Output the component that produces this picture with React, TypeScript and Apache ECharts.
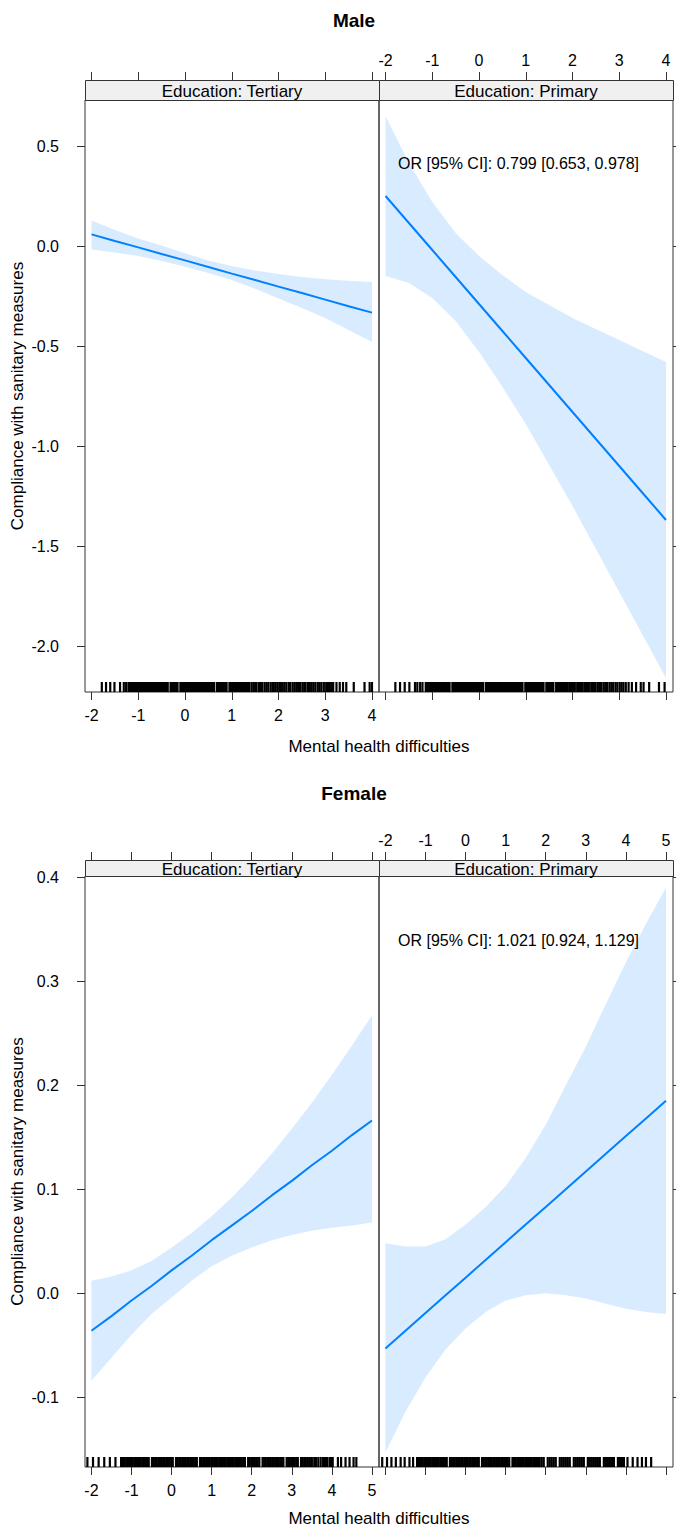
import { useEffect, useRef } from "react";
import * as echarts from "echarts";

const FONT = '"Liberation Sans", Arial, Helvetica, sans-serif';

// ---------- text ----------
const groupNames = ["Male", "Female"];
const panelNames = ["Education: Tertiary", "Education: Primary"];
const xTitle = "Mental health difficulties";
const yTitle = "Compliance with sanitary measures";
const orLabels = ["OR [95% CI]: 0.799 [0.653, 0.978]", "OR [95% CI]: 1.021 [0.924, 1.129]"];

// ---------- ticks ----------
const maleXTicks = [-2, -1, 0, 1, 2, 3, 4];
const femaleXTicks = [-2, -1, 0, 1, 2, 3, 4, 5];
const maleYTicks = [-2, -1.5, -1, -0.5, 0, 0.5];
const femaleYTicks = [-0.1, 0, 0.1, 0.2, 0.3, 0.4];

// ---------- Male ----------
const maleX = [-2, -1.5, -1, -0.5, 0, 0.5, 1, 1.5, 2, 2.5, 3, 3.5, 4];
const maleTertiaryFit = [0.058, 0.025, -0.007, -0.04, -0.072, -0.105, -0.138, -0.17, -0.203, -0.235, -0.268, -0.301, -0.333];
const maleTertiaryUpper = [0.128, 0.08, 0.038, 0.002, -0.036, -0.072, -0.1, -0.122, -0.14, -0.155, -0.166, -0.174, -0.18];
const maleTertiaryLower = [-0.018, -0.032, -0.05, -0.075, -0.104, -0.135, -0.17, -0.214, -0.262, -0.31, -0.36, -0.42, -0.48];
const malePrimaryFit = [0.25, 0.115, -0.02, -0.155, -0.29, -0.425, -0.56, -0.695, -0.83, -0.965, -1.1, -1.235, -1.37];
const malePrimaryUpper = [0.65, 0.415, 0.22, 0.065, -0.05, -0.145, -0.23, -0.295, -0.36, -0.415, -0.47, -0.525, -0.58];
const malePrimaryLower = [-0.15, -0.185, -0.26, -0.375, -0.53, -0.705, -0.89, -1.095, -1.3, -1.515, -1.73, -1.945, -2.16];

const maleTertiaryRug = [
  -1.78, -1.69, -1.6, -1.51, -1.39, -1.31, -1.26, -1.21, -1.18,
  -1.15, -1.12, -1.09, -1.06, -1.03, -1.0, -0.97, -0.94, -0.91, -0.88, -0.85, -0.82, -0.79, -0.76, -0.73, -0.7, -0.67, -0.64, -0.61, -0.58, -0.55, -0.52, -0.49, -0.46, -0.43, -0.4, -0.37, -0.31, -0.28, -0.25, -0.22, -0.19, -0.16, -0.1, -0.07, -0.04, -0.01, 0.02, 0.05, 0.08, 0.11, 0.14, 0.17, 0.2, 0.23, 0.26, 0.29, 0.32, 0.35, 0.38, 0.41, 0.44, 0.47, 0.5, 0.53, 0.56, 0.59, 0.62, 0.68, 0.71, 0.74, 0.77, 0.8, 0.83, 0.86, 0.89, 0.95, 0.98, 1.01, 1.04, 1.07, 1.1, 1.13, 1.16, 1.19, 1.22, 1.25, 1.28, 1.31, 1.34, 1.37,
  1.42, 1.46, 1.5, 1.53, 1.58, 1.62, 1.65, 1.7, 1.74, 1.78, 1.83, 1.87, 1.9, 1.94,
  1.98, 2.02, 2.05, 2.09, 2.13, 2.17, 2.22, 2.25, 2.3, 2.34, 2.38, 2.42, 2.46, 2.51, 2.55, 2.58, 2.63, 2.67, 2.71, 2.75, 2.79, 2.84, 2.88, 2.92, 2.97,
  3.02, 3.05, 3.08, 3.11, 3.14, 3.17,
  3.24, 3.31, 3.38, 3.45, 3.61, 3.84, 3.95, 4.0,
];
const malePrimaryRug = [
  -1.79, -1.69, -1.59, -1.49, -1.37, -1.32, -1.26, -1.21,
  -1.14, -1.11, -1.08, -1.05, -1.02, -0.99, -0.96, -0.93, -0.9, -0.87, -0.84, -0.81, -0.78, -0.75, -0.72, -0.69, -0.66, -0.63, -0.57, -0.54, -0.51, -0.48, -0.45, -0.42, -0.39, -0.36, -0.33, -0.3, -0.27, -0.24, -0.21, -0.18, -0.15, -0.12, -0.09, -0.06, -0.03, 0.0, 0.03, 0.06, 0.09, 0.15, 0.18, 0.21, 0.24, 0.27, 0.3, 0.33, 0.36, 0.39, 0.42, 0.45, 0.48, 0.51, 0.54, 0.57, 0.6, 0.63, 0.66, 0.69, 0.72, 0.75, 0.78, 0.81, 0.84, 0.87, 0.9, 0.93, 0.99, 1.02, 1.05, 1.08, 1.11, 1.14, 1.17, 1.2, 1.23, 1.26, 1.29, 1.32, 1.35, 1.38, 1.44, 1.47, 1.5, 1.53, 1.56, 1.59, 1.65, 1.68, 1.71, 1.74, 1.77, 1.8, 1.83, 1.86, 1.89,
  1.93, 1.97, 2.01, 2.05, 2.1, 2.14, 2.18, 2.22, 2.27, 2.31, 2.35, 2.4, 2.44, 2.48, 2.53, 2.57, 2.61, 2.66, 2.7, 2.74, 2.79, 2.83, 2.87, 2.92, 2.96, 3.01, 3.05, 3.09,
  3.14, 3.2, 3.27, 3.36, 3.46, 3.52, 3.64, 3.85, 3.97,
];

// ---------- Female ----------
const femaleX = [-2, -1.5, -1, -0.5, 0, 0.5, 1, 1.5, 2, 2.5, 3, 3.5, 4, 4.5, 5];
const femaleTertiaryFit = [-0.036, -0.022, -0.007, 0.007, 0.022, 0.036, 0.051, 0.065, 0.079, 0.094, 0.108, 0.123, 0.137, 0.152, 0.166];
const femaleTertiaryUpper = [0.012, 0.016, 0.022, 0.031, 0.044, 0.058, 0.074, 0.092, 0.112, 0.134, 0.158, 0.183, 0.21, 0.238, 0.267];
const femaleTertiaryLower = [-0.084, -0.062, -0.04, -0.02, -0.004, 0.012, 0.026, 0.036, 0.044, 0.051, 0.056, 0.06, 0.063, 0.065, 0.068];
const femalePrimaryFit = [-0.053, -0.036, -0.019, -0.002, 0.015, 0.032, 0.049, 0.066, 0.083, 0.1, 0.117, 0.134, 0.151, 0.168, 0.185];
const femalePrimaryUpper = [0.048, 0.045, 0.045, 0.052, 0.066, 0.083, 0.103, 0.13, 0.162, 0.2, 0.237, 0.278, 0.318, 0.355, 0.39];
const femalePrimaryLower = [-0.153, -0.114, -0.081, -0.054, -0.034, -0.018, -0.007, -0.002, 0.0, -0.002, -0.005, -0.01, -0.015, -0.018, -0.02];

const femaleTertiaryRug = [
  -2.1, -1.96, -1.82, -1.68, -1.54, -1.4, -1.26, -1.21,
  -1.17, -1.13, -1.09, -1.05, -1.01, -0.97, -0.93, -0.89, -0.85, -0.81, -0.77, -0.73, -0.69, -0.65, -0.61, -0.57, -0.49, -0.45, -0.41, -0.37, -0.33, -0.29, -0.25, -0.21, -0.17, -0.13, -0.09, -0.05, -0.01, 0.03, 0.11, 0.15, 0.19, 0.23, 0.27, 0.31, 0.35, 0.39, 0.43, 0.47, 0.51, 0.55, 0.59, 0.63, 0.71, 0.75, 0.79, 0.83, 0.87, 0.91, 0.95, 0.99, 1.03, 1.07, 1.11, 1.15, 1.19, 1.23, 1.27, 1.31, 1.35, 1.39, 1.43, 1.47, 1.51, 1.55, 1.59, 1.63, 1.67, 1.71, 1.75, 1.79, 1.83, 1.91, 1.95, 1.99, 2.03, 2.07, 2.11, 2.15, 2.19, 2.27, 2.31, 2.35, 2.39, 2.43, 2.47, 2.51, 2.55, 2.59, 2.63, 2.67, 2.71, 2.75, 2.79, 2.87, 2.91, 2.95, 2.99, 3.03, 3.07, 3.11, 3.15, 3.23, 3.27, 3.31, 3.35,
  3.4, 3.45, 3.5, 3.56, 3.6, 3.66, 3.72, 3.78, 3.83, 3.88, 3.94, 3.98, 4.02,
  4.15, 4.23, 4.34, 4.44, 4.54, 4.61,
];
const femalePrimaryRug = [
  -2.08, -1.96, -1.85, -1.74, -1.62, -1.52, -1.4, -1.31, -1.21,
  -1.19, -1.15, -1.11, -1.07, -1.03, -0.99, -0.95, -0.91, -0.87, -0.83, -0.79, -0.75, -0.71, -0.67, -0.63, -0.59, -0.55, -0.51, -0.47, -0.39, -0.35, -0.31, -0.27, -0.23, -0.19, -0.15, -0.11, -0.07, -0.03, 0.01, 0.05, 0.09, 0.13, 0.17, 0.21, 0.25, 0.29, 0.33, 0.41, 0.45, 0.49, 0.53, 0.57, 0.61, 0.65, 0.69, 0.73, 0.77, 0.81, 0.85, 0.89, 0.93, 0.97, 1.01, 1.05, 1.09, 1.17, 1.21, 1.25, 1.29, 1.33, 1.37, 1.41, 1.45, 1.49, 1.53, 1.57, 1.61, 1.65, 1.69, 1.73, 1.77, 1.81, 1.85,
  1.9, 1.95, 2.05, 2.1, 2.15, 2.2, 2.25, 2.35, 2.4, 2.45, 2.5, 2.55, 2.6, 2.7, 2.75, 2.8, 2.85, 2.9, 2.95, 3.05, 3.1, 3.15, 3.2, 3.25, 3.3, 3.35, 3.45, 3.5, 3.55, 3.6, 3.65, 3.7, 3.8, 3.85, 3.9, 3.95, 4.04,
  4.17, 4.29, 4.4, 4.5, 4.63,
];

// ---------- styling / layout ----------
const BAND = "#d9ecff";
const LINE = "#0080ff";
const BORDER = "#333333";
const STRIP_BG = "#f0f0f0";
const PANEL_LEFT = [85, 379];
const PANEL_W = 294;

const groups = [
  {
    stripTop: 80, stripH: 20, plotTop: 100, plotH: 592, titleY: 20, xTitleY: 746, orY: 163,
    xMin: -2.14, xMax: 4.15, yMin: -2.23, yMax: 0.73,
    xTicks: maleXTicks, yTicks: maleYTicks, x: maleX, rugW: 2.2,
    fits: [maleTertiaryFit, malePrimaryFit],
    uppers: [maleTertiaryUpper, malePrimaryUpper],
    lowers: [maleTertiaryLower, malePrimaryLower],
    rugs: [maleTertiaryRug, malePrimaryRug],
  },
  {
    stripTop: 860, stripH: 16, plotTop: 876, plotH: 591, titleY: 793, xTitleY: 1518, orY: 940,
    xMin: -2.16, xMax: 5.175, yMin: -0.167, yMax: 0.401,
    xTicks: femaleXTicks, yTicks: femaleYTicks, x: femaleX, rugW: 2.2,
    fits: [femaleTertiaryFit, femalePrimaryFit],
    uppers: [femaleTertiaryUpper, femalePrimaryUpper],
    lowers: [femaleTertiaryLower, femalePrimaryLower],
    rugs: [femaleTertiaryRug, femalePrimaryRug],
  },
];

const textBase = { fontFamily: FONT, fontSize: 16, color: "#000" };

function buildOption() {
  const grid: any[] = [];
  const xAxis: any[] = [];
  const yAxis: any[] = [];
  const series: any[] = [];
  const graphic: any[] = [];

  groups.forEach((G, gi) => {
    [0, 1].forEach((pi) => {
      const g = gi * 2 + pi;
      grid.push({
        left: PANEL_LEFT[pi], top: G.plotTop, width: PANEL_W, height: G.plotH,
        show: true, borderColor: BORDER, borderWidth: 1, backgroundColor: "rgba(0,0,0,0)",
        containLabel: false, outerBoundsMode: "none",
      });
      const xCommon = {
        gridIndex: g, type: "value", min: G.xMin, max: G.xMax,
        axisLine: { show: false, onZero: false }, splitLine: { show: false },
        axisTick: { show: true, length: 8, customValues: G.xTicks, lineStyle: { color: BORDER } },
      };
      xAxis.push({
        ...xCommon, position: "bottom",
        axisLabel: { show: pi === 0, customValues: G.xTicks, margin: 15, ...textBase },
      });
      xAxis.push({
        ...xCommon, position: "top", offset: G.stripH,
        axisLabel: { show: pi === 1, customValues: G.xTicks, margin: 12, ...textBase },
      });
      yAxis.push({
        gridIndex: g, type: "value", min: G.yMin, max: G.yMax,
        position: pi === 0 ? "left" : "right",
        axisLine: { show: false, onZero: false }, splitLine: { show: false },
        axisTick: { show: true, length: 8, customValues: G.yTicks, lineStyle: { color: BORDER } },
        axisLabel: {
          show: pi === 0, customValues: G.yTicks, margin: 26, ...textBase,
          formatter: (v: number) => v.toFixed(1),
        },
      });

      const xs = G.x, up = G.uppers[pi], lo = G.lowers[pi], fit = G.fits[pi];
      series.push({
        type: "custom", xAxisIndex: 2 * g, yAxisIndex: g, silent: true, z: 1,
        data: [[xs[0], fit[0]]],
        renderItem: (_p: any, api: any) => {
          const pts: number[][] = [];
          for (let i = 0; i < xs.length; i++) pts.push(api.coord([xs[i], up[i]]));
          for (let i = xs.length - 1; i >= 0; i--) pts.push(api.coord([xs[i], lo[i]]));
          return { type: "polygon", shape: { points: pts }, style: { fill: BAND, stroke: null } };
        },
      });
      const rugW = G.rugW;
      series.push({
        type: "custom", xAxisIndex: 2 * g, yAxisIndex: g, silent: true, z: 2,
        data: G.rugs[pi].map((v) => [v, G.yMin]),
        renderItem: (params: any, api: any) => {
          const p = api.coord([api.value(0), api.value(1)]);
          const cs = params.coordSys;
          const yb = cs.y + cs.height;
          return {
            type: "rect",
            shape: { x: p[0] - rugW / 2, y: yb - 10, width: rugW, height: 10 },
            style: { fill: "#000", stroke: null },
          };
        },
      });
      series.push({
        type: "line", xAxisIndex: 2 * g, yAxisIndex: g, silent: true, z: 3,
        showSymbol: false, symbol: "none",
        data: xs.map((x, i) => [x, fit[i]]),
        lineStyle: { color: LINE, width: 2 },
      });

      graphic.push({
        type: "rect", silent: true, z: 10,
        shape: { x: PANEL_LEFT[pi] + 0.5, y: G.stripTop + 0.5, width: PANEL_W, height: G.stripH },
        style: { fill: STRIP_BG, stroke: BORDER, lineWidth: 1 },
      });
      graphic.push({
        type: "text", silent: true, z: 11,
        x: PANEL_LEFT[pi] + PANEL_W / 2, y: G.stripTop + G.stripH / 2 + 1,
        style: { text: panelNames[pi], align: "center", verticalAlign: "middle", font: `17px ${FONT}`, fill: "#000" },
      });
    });

    graphic.push({
      type: "text", silent: true, x: 354, y: G.titleY,
      style: { text: groupNames[gi], align: "center", verticalAlign: "middle", font: `bold 19px ${FONT}`, fill: "#000" },
    });
    graphic.push({
      type: "text", silent: true, x: 379, y: G.xTitleY,
      style: { text: xTitle, align: "center", verticalAlign: "middle", font: `17px ${FONT}`, fill: "#000" },
    });
    graphic.push({
      type: "text", silent: true, x: 17, y: G.plotTop + G.plotH / 2, rotation: Math.PI / 2,
      style: { text: yTitle, align: "center", verticalAlign: "middle", font: `17px ${FONT}`, fill: "#000" },
    });
    graphic.push({
      type: "text", silent: true, z: 12, x: 398, y: G.orY,
      style: { text: orLabels[gi], align: "left", verticalAlign: "middle", font: `16px ${FONT}`, fill: "#000" },
    });
  });

  return { animation: false, backgroundColor: "#fff", grid, xAxis, yAxis, series, graphic };
}

export default function App() {
  const ref = useRef<HTMLDivElement>(null);
  useEffect(() => {
    const chart = echarts.init(ref.current!, undefined, { renderer: "svg" });
    chart.setOption(buildOption() as any);
    return () => chart.dispose();
  }, []);
  return (
    <div
      ref={ref}
      style={{ position: "absolute", left: 0, top: 0, width: 676, height: 1530, background: "#fff" }}
    />
  );
}
